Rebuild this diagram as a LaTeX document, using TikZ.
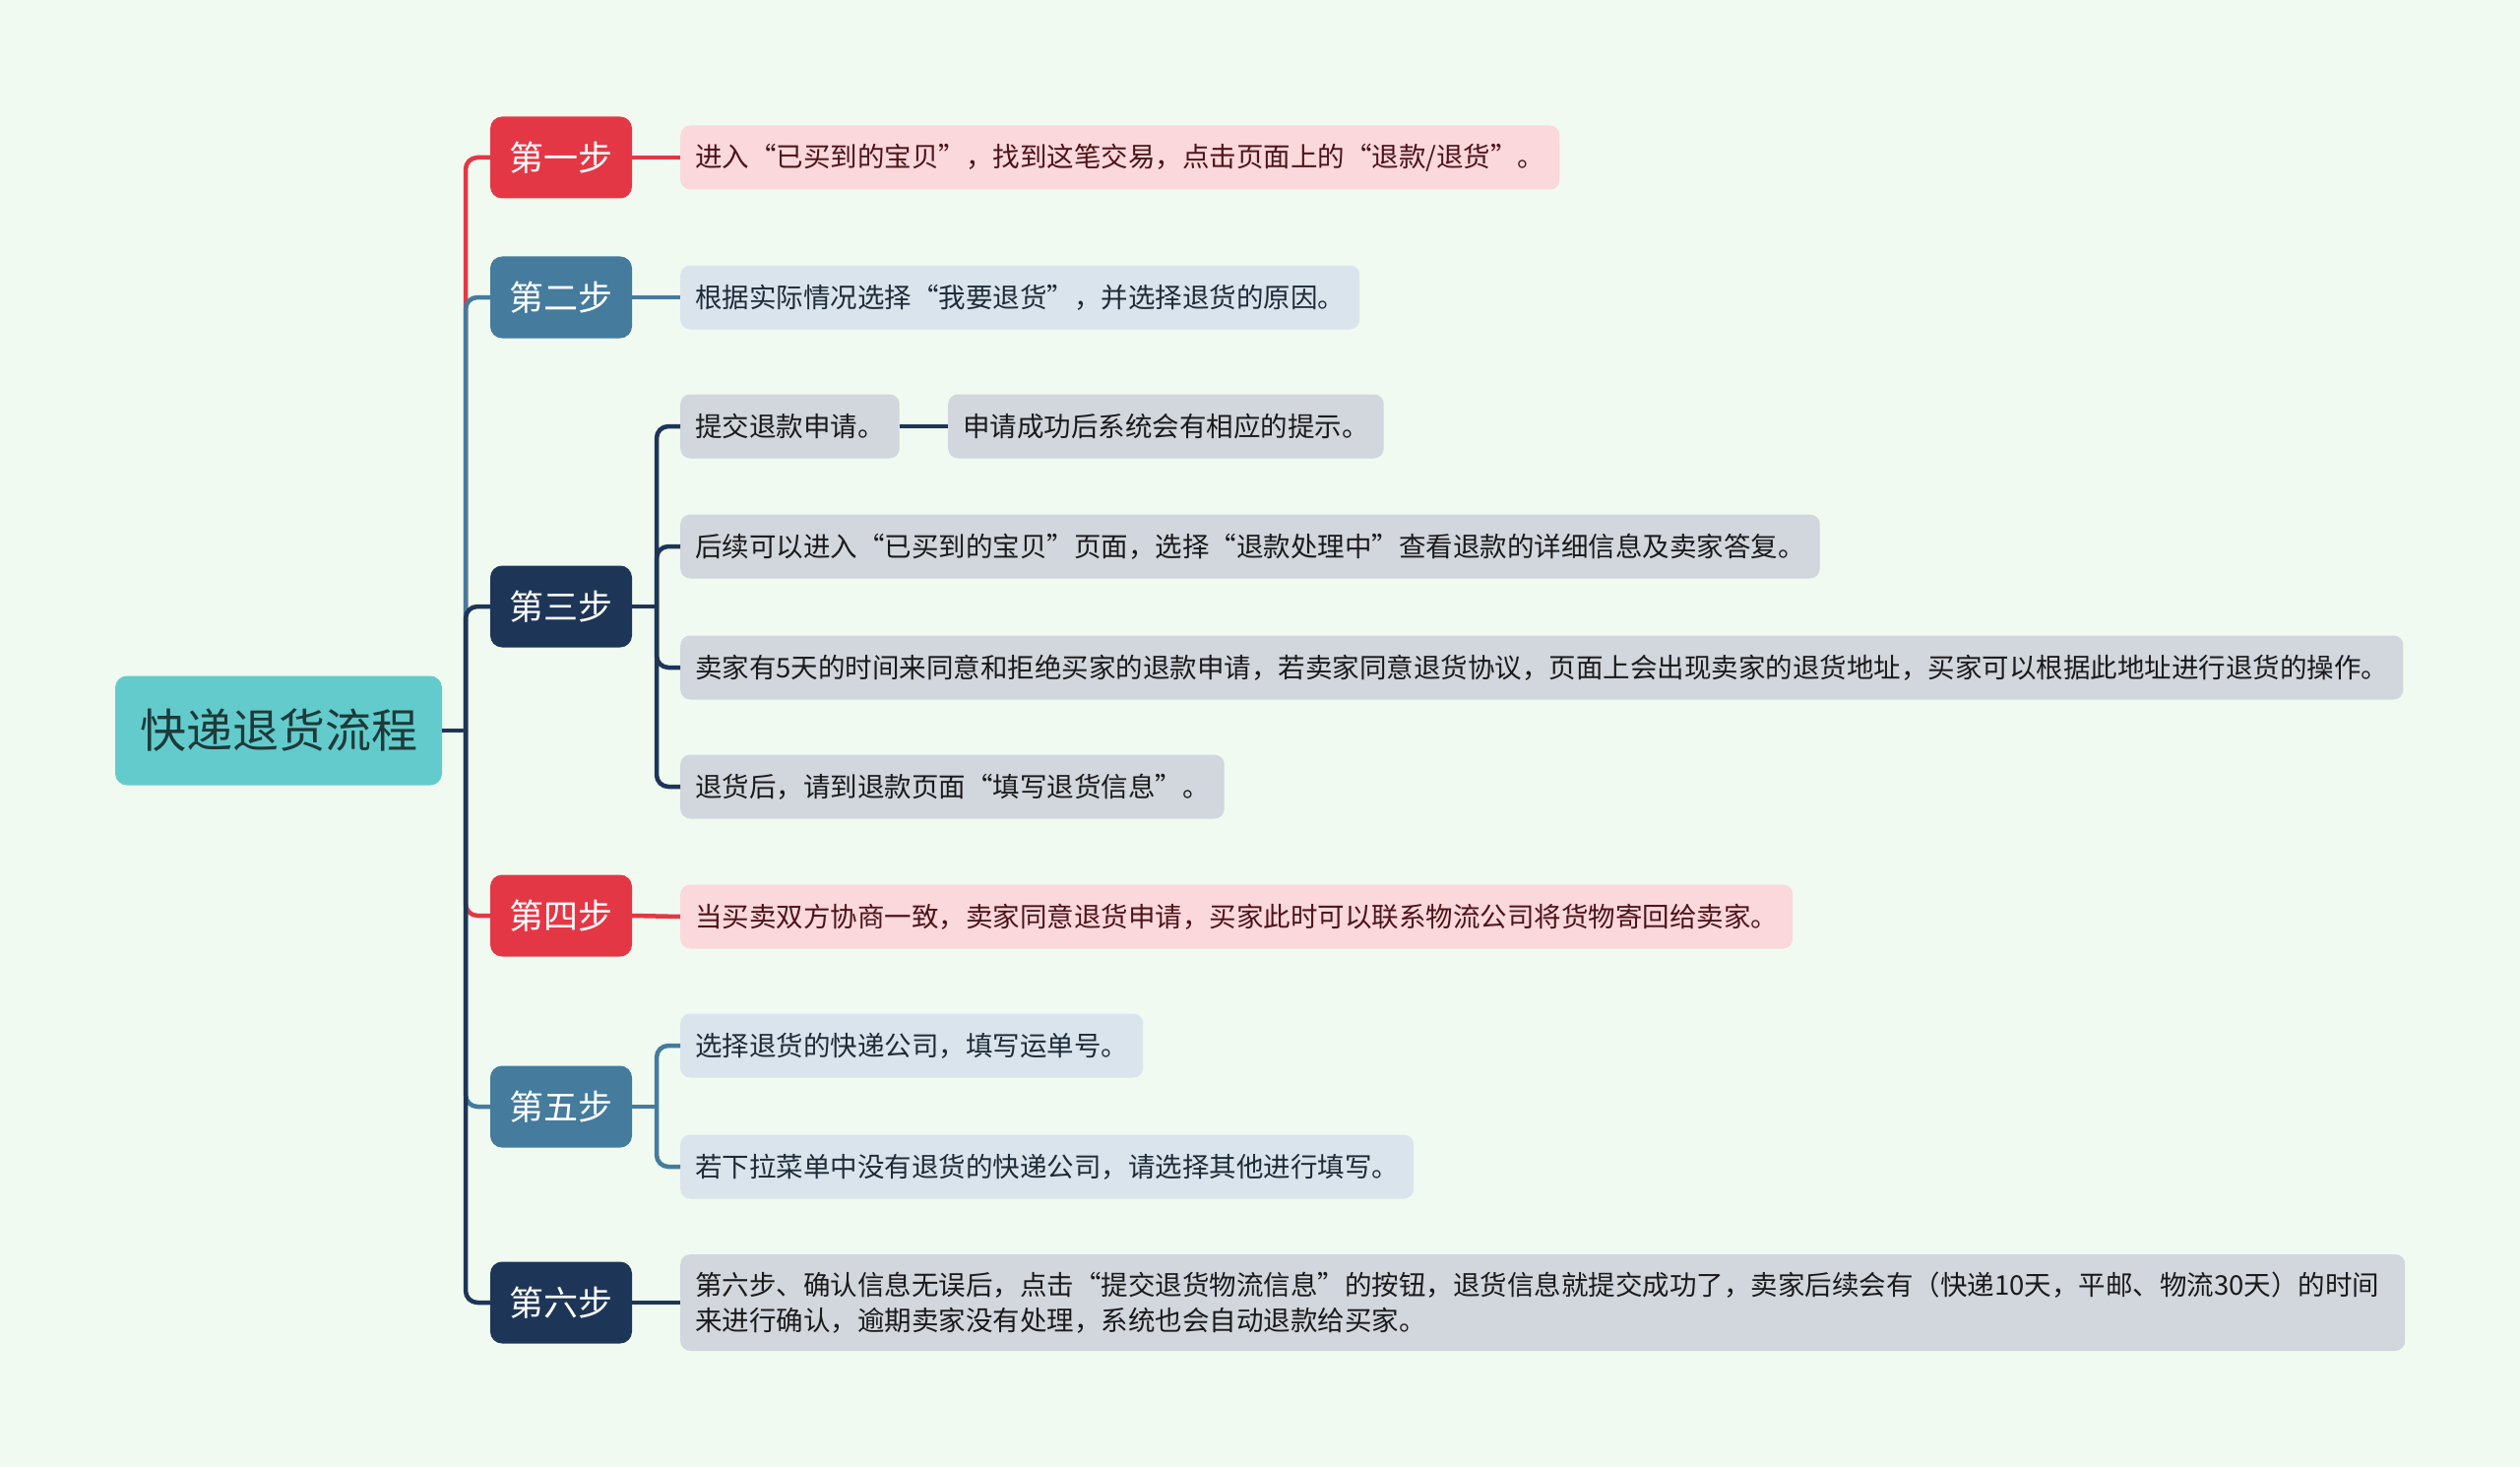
\documentclass[tikz,border=0pt]{standalone}
\usepackage{fontspec}
\setmainfont{Noto Sans CJK SC}
\definecolor{bg}{HTML}{F0FAF0}
\definecolor{rootc}{HTML}{63CBCC}
\definecolor{roottext}{HTML}{1E3A3A}
\definecolor{redc}{HTML}{E43745}
\definecolor{redl}{HTML}{FAD8DC}
\definecolor{redt}{HTML}{4E1318}
\definecolor{bluec}{HTML}{457B9D}
\definecolor{bluel}{HTML}{DAE4EC}
\definecolor{bluet}{HTML}{1E2B38}
\definecolor{navyc}{HTML}{1D3557}
\definecolor{navyl}{HTML}{D2D6DD}
\definecolor{navyt}{HTML}{1A1A1A}
\tikzset{
  rootbox/.style={fill=rootc, rounded corners=12pt, minimum width=332pt, minimum height=111pt,
    font=\fontsize{47}{56}\selectfont, text=roottext, inner sep=0pt},
  stepbox/.style={rounded corners=12pt, minimum width=144pt, minimum height=83pt,
    font=\fontsize{35}{42}\selectfont, text=white, inner sep=0pt},
  leafbox/.style={rounded corners=10pt, minimum height=65pt, inner xsep=15pt, inner ysep=0pt,
    font=\fontsize{27.5}{36}\selectfont, anchor=west},
  redstep/.style={stepbox, fill=redc},
  bluestep/.style={stepbox, fill=bluec},
  navystep/.style={stepbox, fill=navyc},
  redleaf/.style={leafbox, fill=redl, text=redt},
  blueleaf/.style={leafbox, fill=bluel, text=bluet},
  navyleaf/.style={leafbox, fill=navyl, text=navyt},
  link/.style={line width=4.5pt, rounded corners=12pt},
}
\begin{document}
\begin{tikzpicture}[x=1pt, y=-1pt]
\fill[bg] (0,0) rectangle (2560,1490);
\useasboundingbox (0,0) rectangle (2560,1490);

% root
\node[rootbox] (root) at (283,742) {快递退货流程};

% steps
\node[redstep]  (s1) at (570,160)  {第一步};
\node[bluestep] (s2) at (570,302)  {第二步};
\node[navystep] (s3) at (570,616)  {第三步};
\node[redstep]  (s4) at (570,930)  {第四步};
\node[bluestep] (s5) at (570,1124) {第五步};
\node[navystep] (s6) at (570,1323) {第六步};

% leaves
\node[redleaf]  (a1)  at (691,160)  {进入“已买到的宝贝”，找到这笔交易，点击页面上的“退款/退货”。};
\node[blueleaf] (a2)  at (691,302)  {根据实际情况选择“我要退货”，并选择退货的原因。};
\node[navyleaf] (a31) at (691,433)  {提交退款申请。};
\node[navyleaf] (a311) at (963,433) {申请成功后系统会有相应的提示。};
\node[navyleaf] (a32) at (691,555)  {后续可以进入“已买到的宝贝”页面，选择“退款处理中”查看退款的详细信息及卖家答复。};
\node[navyleaf] (a33) at (691,678)  {卖家有5天的时间来同意和拒绝买家的退款申请，若卖家同意退货协议，页面上会出现卖家的退货地址，买家可以根据此地址进行退货的操作。};
\node[navyleaf] (a34) at (691,799)  {退货后，请到退款页面“填写退货信息”。};
\node[redleaf]  (a4)  at (691,931)  {当买卖双方协商一致，卖家同意退货申请，买家此时可以联系物流公司将货物寄回给卖家。};
\node[blueleaf] (a51) at (691,1062) {选择退货的快递公司，填写运单号。};
\node[blueleaf] (a52) at (691,1185) {若下拉菜单中没有退货的快递公司，请选择其他进行填写。};
\node[navyleaf, minimum height=98pt, text width=1722pt, align=left] (a6) at (691,1323)
  {第六步、确认信息无误后，点击“提交退货物流信息”的按钮，退货信息就提交成功了，卖家后续会有（快递10天，平邮、物流30天）的时间\\来进行确认，逾期卖家没有处理，系统也会自动退款给买家。};

% trunk
\coordinate (tr) at (473,742);
\draw[link, navyc] (root.east) -- (tr);
\draw[link, redc]  (tr) |- (s1.west);
\draw[link, bluec] (tr) |- (s2.west);
\draw[link, navyc] (tr) |- (s3.west);
\draw[link, redc]  (tr) |- (s4.west);
\draw[link, bluec] (tr) |- (s5.west);
\draw[link, navyc] (tr) |- (s6.west);

% step to leaves
\draw[link, redc]  (s1.east) -- (a1.west);
\draw[link, bluec] (s2.east) -- (a2.west);
\coordinate (f3) at (667,616);
\draw[link, navyc] (s3.east) -- (f3);
\draw[link, navyc] (f3) |- (a31.west);
\draw[link, navyc] (f3) |- (a32.west);
\draw[link, navyc] (f3) |- (a33.west);
\draw[link, navyc] (f3) |- (a34.west);
\draw[link, navyc] (a31.east) -- (a311.west);
\draw[link, redc]  (s4.east) -- (a4.west);
\coordinate (f5) at (667,1124);
\draw[link, bluec] (s5.east) -- (f5);
\draw[link, bluec] (f5) |- (a51.west);
\draw[link, bluec] (f5) |- (a52.west);
\draw[link, navyc] (s6.east) -- (a6.west);
\end{tikzpicture}
\end{document}
